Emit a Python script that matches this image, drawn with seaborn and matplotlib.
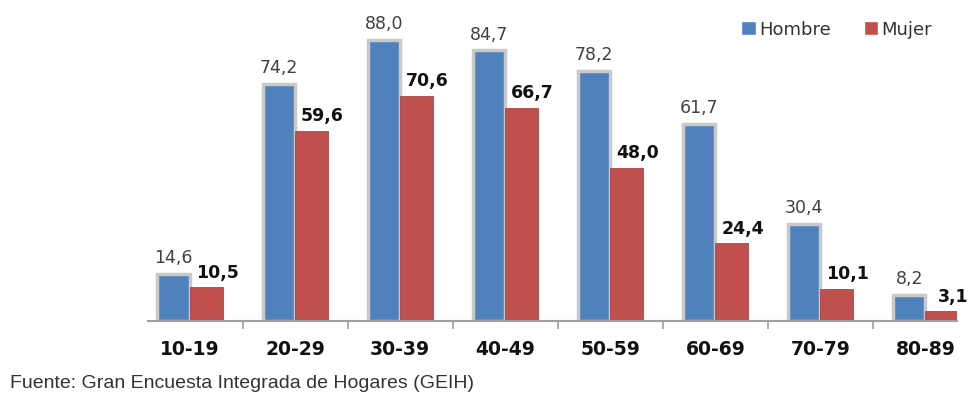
import pandas as pd
import numpy as np
import matplotlib
matplotlib.use("Agg")
import matplotlib.pyplot as plt
import seaborn as sns

# Datos
# ==============================================================================
grupos = ["10-19", "20-29", "30-39", "40-49", "50-59", "60-69", "70-79", "80-89"]
hombre = [14.6, 74.2, 88.0, 84.7, 78.2, 61.7, 30.4, 8.2]
mujer = [10.5, 59.6, 70.6, 66.7, 48.0, 24.4, 10.1, 3.1]
series = ["Hombre", "Mujer"]
fuente = "Fuente: Gran Encuesta Integrada de Hogares (GEIH)"

datos = pd.DataFrame({
    "grupo": grupos * 2,
    "valor": hombre + mujer,
    "sexo": [series[0]] * len(grupos) + [series[1]] * len(grupos),
})

sns.set_style("white")
plt.rcParams["font.family"] = ["DejaVu Sans"]

fig = plt.figure(figsize=(9.7, 4.0), dpi=100)
ax = fig.add_axes([148 / 970, 79 / 400, (957 - 148) / 970, 321 / 400])

sns.barplot(
    data=datos, x="grupo", y="valor", hue="sexo",
    palette={"Hombre": "#4F81BD", "Mujer": "#C0504D"},
    width=0.62, gap=0.0, saturation=1, errorbar=None, ax=ax,
)

# Marco gris (efecto 3D) en las barras de hombre
for p in ax.containers[0]:
    p.set_edgecolor("#C9C9C9")
    p.set_linewidth(2.5)
for p in ax.containers[1]:
    p.set_edgecolor("#A94442")
    p.set_linewidth(0.6)

fmt = lambda v: f"{v:.1f}".replace(".", ",")

for p, v in zip(ax.containers[0], hombre):
    ax.annotate(fmt(v), (p.get_x() + p.get_width() / 2, p.get_height()),
                xytext=(0, 5), textcoords="offset points",
                ha="center", va="bottom", fontsize=12.5, color="#404040")
for p, v in zip(ax.containers[1], mujer):
    ax.annotate(fmt(v), (p.get_x() + p.get_width() / 2, p.get_height()),
                xytext=(8, 4), textcoords="offset points",
                ha="center", va="bottom", fontsize=12.5, fontweight="bold",
                color="#111111")

ax.set_xlim(-0.4, 7.3)
ax.set_ylim(0, 100.5)
ax.set_yticks([])
ax.set_xlabel("")
ax.set_ylabel("")
ax.set_xticks(range(len(grupos)))
ax.set_xticklabels(grupos, fontsize=13.5, fontweight="bold", color="#111111")
ax.set_xticks(np.arange(0.5, len(grupos) - 1, 1.0), minor=True)
ax.tick_params(axis="x", which="major", length=0, pad=14)
ax.tick_params(axis="x", which="minor", length=6, width=1.2, color="#A0A0A0",
               direction="out", bottom=True)

for s in ["top", "right", "left"]:
    ax.spines[s].set_visible(False)
ax.spines["bottom"].set_color("#A0A0A0")
ax.spines["bottom"].set_linewidth(1.5)

leg = ax.legend(loc="upper right", bbox_to_anchor=(0.985, 0.975), ncol=2, frameon=False,
                fontsize=13, handlelength=0.8, handleheight=0.8, handletextpad=0.2,
                columnspacing=1.8, borderaxespad=0.3)
for t in leg.get_texts():
    t.set_color("#333333")

fig.text(10 / 970, 17 / 400, fuente, fontsize=14, family="Liberation Sans",
         color="#333333", ha="left", va="center")

plt.savefig("out.png", dpi=100)
